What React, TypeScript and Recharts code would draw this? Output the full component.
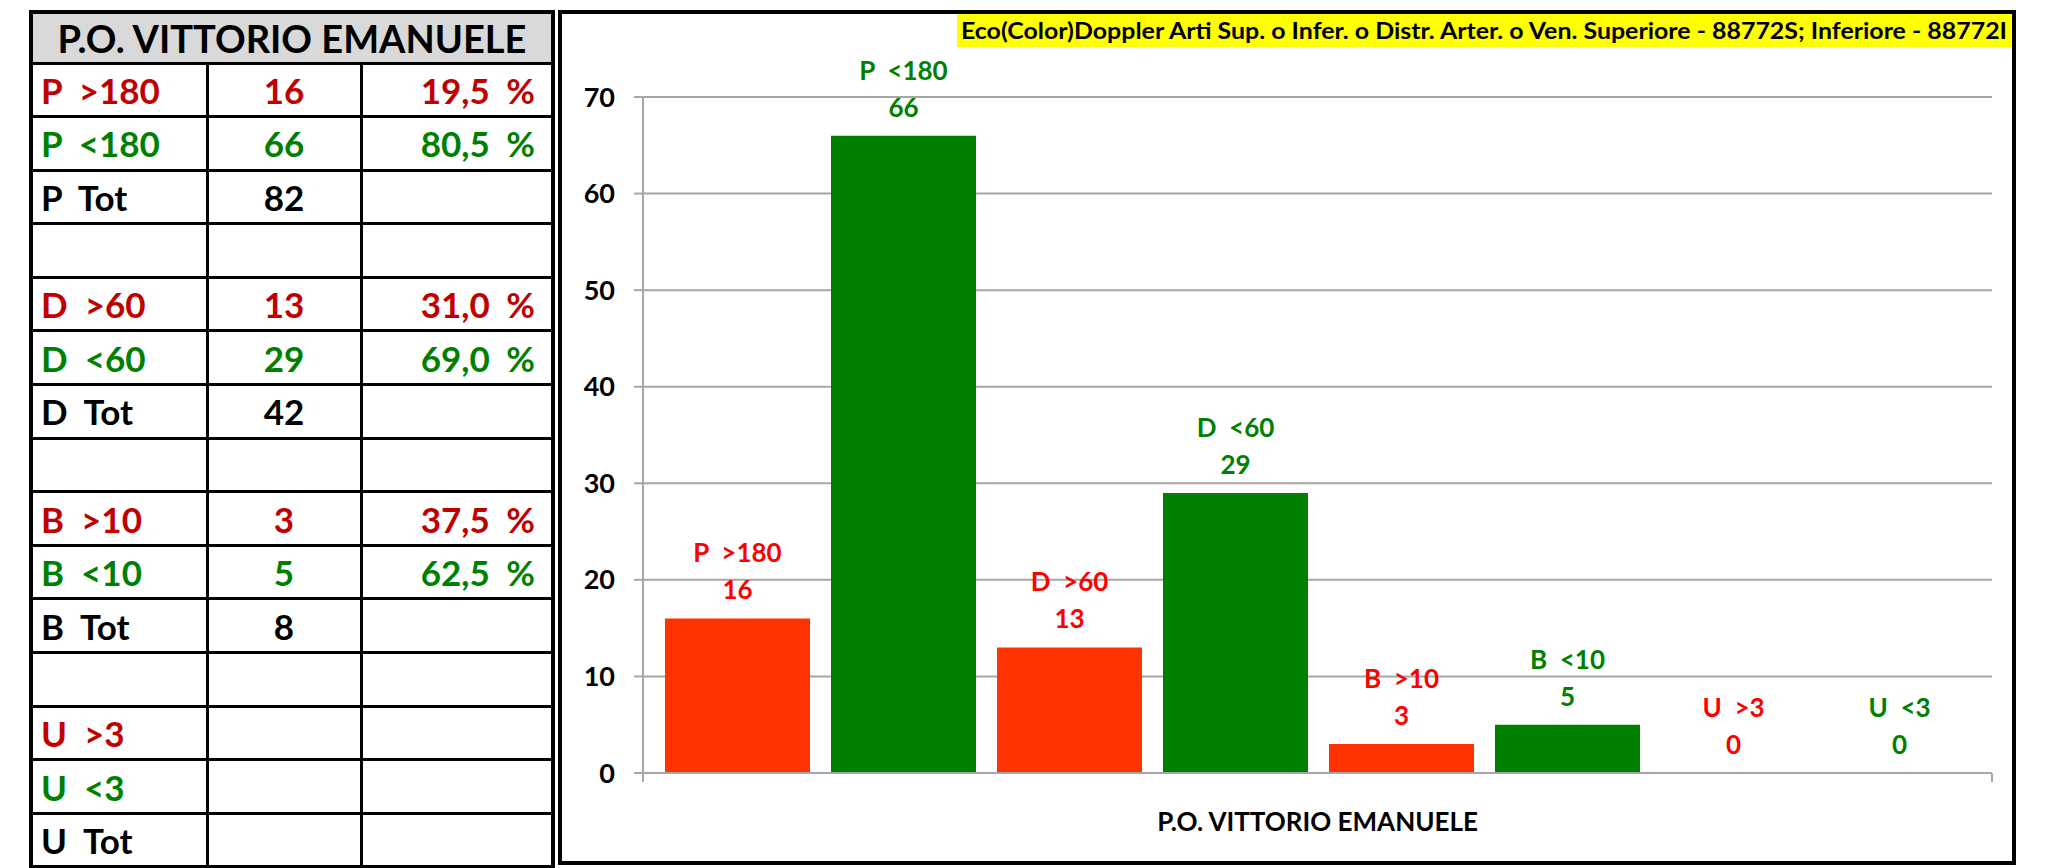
import { BarChart, Bar, XAxis, YAxis, CartesianGrid, LabelList } from 'recharts'

const CATEGORY = 'P.O. VITTORIO EMANUELE'
const SERIES_KEYS = ['pOver', 'pUnder', 'dOver', 'dUnder', 'bOver', 'bUnder', 'uOver', 'uUnder']
const SERIES_NAMES = ['P  >180', 'P  <180', 'D  >60', 'D  <60', 'B  >10', 'B  <10', 'U  >3', 'U  <3']
const SERIES_VALUES = [16, 66, 13, 29, 3, 5, 0, 0]
const SERIES_TONES = ['over', 'under', 'over', 'under', 'over', 'under', 'over', 'under']
const Y_TICKS = [0, 10, 20, 30, 40, 50, 60, 70]

// riepilogo a sinistra
const TABLE_LABELS = ['P  >180', 'P  <180', 'P  Tot', '', 'D  >60', 'D  <60', 'D  Tot', '', 'B  >10', 'B  <10', 'B  Tot', '', 'U  >3', 'U  <3', 'U  Tot']
const TABLE_COUNTS = ['16', '66', '82', '', '13', '29', '42', '', '3', '5', '8', '', '', '', '']
const TABLE_PERCENTS = ['19,5 %', '80,5 %', '', '', '31,0 %', '69,0 %', '', '', '37,5 %', '62,5 %', '', '', '', '', '']
const TABLE_TONES = ['over', 'under', 'tot', 'tot', 'over', 'under', 'tot', 'tot', 'over', 'under', 'tot', 'tot', 'over', 'under', 'tot']

const TITLE = 'Eco(Color)Doppler Arti Sup. o Infer. o Distr. Arter. o Ven. Superiore - 88772S; Inferiore - 88772I'

const FONT = 'Lato, "Open Sans", sans-serif'

const TABLE_COLORS: Record<string, string> = { over: '#c00000', under: '#008000', tot: '#000000' }
const BAR_COLORS: Record<string, string> = { over: '#ff3300', under: '#008000' }
const LABEL_COLORS: Record<string, string> = { over: '#ff0000', under: '#008000' }
const GRID = '#a6a6a6'

// geometria del grafico (px, relativi all'svg)
const CHART_W = 1450
const CHART_H = 847
const Y_AXIS_W = 81
const X_AXIS_H = 88
const RIGHT_M = 20
const PLOT_LEFT = Y_AXIS_W
const PLOT_RIGHT = CHART_W - RIGHT_M
const AXIS_Y = CHART_H - X_AXIS_H

const chartData = [
	SERIES_KEYS.reduce((row: Record<string, any>, key, i) => {
		row[key] = SERIES_VALUES[i]
		return row
	}, { name: CATEGORY }),
]

// etichetta su due righe: nome serie e valore
const makeLabel = (name: string, color: string) => (props: any) => {
	const box = props.viewBox ?? props
	const x = Number(box.x ?? props.x)
	const y = Number(box.y ?? props.y)
	const w = Number(box.width ?? props.width)
	const h = Number(box.height ?? props.height ?? 0)
	const top = Math.min(y, y + h)
	const cx = x + w / 2
	return (
		<g>
			<text x={cx} y={top - 56} textAnchor="middle" fill={color} fontFamily={FONT} fontWeight={700} fontSize={26} style={{ whiteSpace: 'pre' }}>
				{name}
			</text>
			<text x={cx} y={top - 19} textAnchor="middle" fill={color} fontFamily={FONT} fontWeight={700} fontSize={26}>
				{props.value}
			</text>
		</g>
	)
}

const XTick = (props: any) => (
	<g>
		<line x1={PLOT_LEFT} x2={PLOT_LEFT} y1={AXIS_Y} y2={AXIS_Y + 9} stroke={GRID} strokeWidth={2} />
		<line x1={PLOT_RIGHT} x2={PLOT_RIGHT} y1={AXIS_Y} y2={AXIS_Y + 9} stroke={GRID} strokeWidth={2} />
		<text x={props.x} y={AXIS_Y + 58} textAnchor="middle" fill="#000" fontFamily={FONT} fontWeight={700} fontSize={26}>
			{props.payload.value}
		</text>
	</g>
)

function SummaryTable() {
	const cell = (extra: any) => ({
		border: '3px solid #000',
		padding: '0 6px',
		fontFamily: FONT,
		fontWeight: 700,
		fontSize: 35,
		whiteSpace: 'pre' as const,
		overflow: 'hidden',
		...extra,
	})
	return (
		<table
			style={{
				position: 'absolute',
				left: 29,
				top: 10,
				width: 522,
				height: 855,
				borderCollapse: 'collapse',
				tableLayout: 'fixed',
				border: '4px solid #000',
			}}
		>
			<colgroup>
				<col style={{ width: 176 }} />
				<col style={{ width: 154 }} />
				<col style={{ width: 192 }} />
			</colgroup>
			<tbody>
				<tr style={{ height: 51 }}>
					<td colSpan={3} style={cell({ background: '#d9d9d9', textAlign: 'center', fontSize: 38, color: '#000', padding: 0 })}>
						{CATEGORY}
					</td>
				</tr>
				{TABLE_LABELS.map((label, i) => {
					const color = TABLE_COLORS[TABLE_TONES[i]]
					return (
						<tr key={i} style={{ height: 53.6 }}>
							<td style={cell({ color, textAlign: 'left', paddingLeft: 8 })}>{label}</td>
							<td style={cell({ color, textAlign: 'center' })}>{TABLE_COUNTS[i]}</td>
							<td style={cell({ color, textAlign: 'right', paddingRight: 16, wordSpacing: 8 })}>{TABLE_PERCENTS[i]}</td>
						</tr>
					)
				})}
			</tbody>
		</table>
	)
}

export default function App() {
	return (
		<div style={{ position: 'absolute', left: 0, top: 0, width: 2048, height: 868, background: '#fff' }}>
			<SummaryTable />
			<div
				style={{
					position: 'absolute',
					left: 558,
					top: 10,
					width: 1458,
					height: 855,
					border: '4px solid #000',
					boxSizing: 'border-box',
				}}
			>
				<BarChart
					width={CHART_W}
					height={CHART_H}
					data={chartData}
					margin={{ top: 83, right: RIGHT_M, bottom: 0, left: 0 }}
					barCategoryGap={22}
					barGap={21}
				>
					<CartesianGrid vertical={false} stroke={GRID} strokeWidth={2} />
					<XAxis dataKey="name" height={X_AXIS_H} axisLine={{ stroke: GRID, strokeWidth: 2 }} tickLine={false} tick={<XTick />} />
					<YAxis
						width={Y_AXIS_W}
						domain={[0, 70]}
						ticks={Y_TICKS}
						interval={0}
						axisLine={{ stroke: GRID, strokeWidth: 2 }}
						tickLine={{ stroke: GRID, strokeWidth: 2 }}
						tickSize={9}
						tickMargin={19}
						tick={{ fill: '#000', fontFamily: FONT, fontWeight: 700, fontSize: 27 }}
					/>
					{SERIES_KEYS.map((key, i) => (
						<Bar
							key={key}
							dataKey={key}
							name={SERIES_NAMES[i]}
							fill={BAR_COLORS[SERIES_TONES[i]]}
							minPointSize={0.01}
							isAnimationActive={false}
						>
							<LabelList dataKey={key} content={makeLabel(SERIES_NAMES[i], LABEL_COLORS[SERIES_TONES[i]])} />
						</Bar>
					))}
				</BarChart>
				<div
					style={{
						position: 'absolute',
						right: 0,
						top: 0,
						width: 1055,
						height: 33,
						background: '#ffff00',
					}}
				>
					<svg width={1055} height={33} style={{ display: 'block' }}>
						<text
							x={4}
							y={25}
							textLength={1046}
							lengthAdjust="spacingAndGlyphs"
							fill="#000"
							fontFamily={FONT}
							fontWeight={700}
							fontSize={22}
						>
							{TITLE}
						</text>
					</svg>
				</div>
			</div>
		</div>
	)
}
